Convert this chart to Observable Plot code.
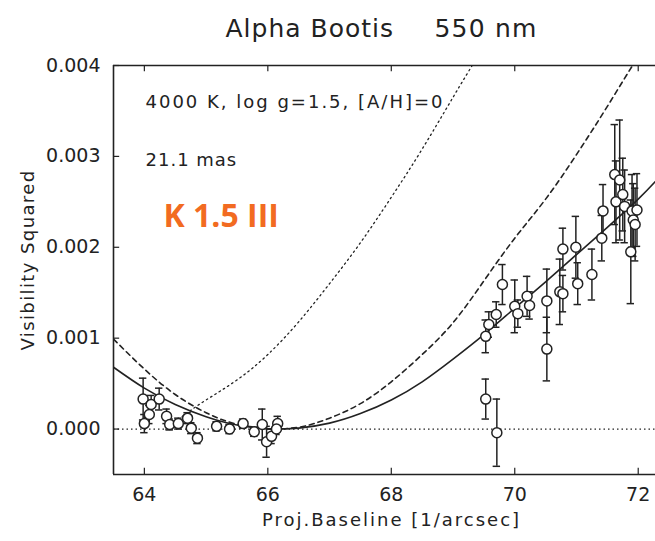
<!DOCTYPE html>
<html><head><meta charset="utf-8">
<script src="https://cdn.jsdelivr.net/npm/d3@7"></script>
<script src="https://cdn.jsdelivr.net/npm/@observablehq/plot@0.6"></script>
<style>body{margin:0;background:#fff} svg{display:block}</style>
</head><body><div id="chart"></div><script>
// Axis ticks
const xTicks = [64, 66, 68, 70, 72];
const yTicks = [0, 0.001, 0.002, 0.003, 0.004];
// Solid model curve
const solidX = [63.5,64,64.5,65,65.5,66,66.2,66.5,67,67.5,68,68.5,69,69.5,70,70.5,71,71.5,72,72.3];
const solidV = [0.00068,0.00045,0.00027,0.000135,0.000045,0.000004,0,0.00001,0.000065,0.00017,0.00032,0.00052,0.00077,0.00104,0.00133,0.00162,0.00192,0.00222,0.00253,0.00274];
// Dashed model curve
const dashX = [63.5,64,64.5,65,65.5,66,66.1,66.5,67,67.5,68,68.5,69,69.5,70,70.5,71,71.5,72,72.3];
const dashV = [0.00099,0.00066,0.00038,0.00018,0.000054,0.000002,0,0.00002,0.00012,0.00028,0.00052,0.00082,0.00117,0.00163,0.0021,0.00253,0.00302,0.00355,0.0041,0.0044];
// Dotted model curve
const dotX = [64.35,64.7,65,65.5,66,66.5,67,67.5,68,68.5,69,69.4];
const dotV = [0,0.00018,0.00032,0.00054,0.00082,0.00118,0.0016,0.00205,0.00255,0.00308,0.00365,0.0041];
// Measurements: baseline, V^2, error
const ptX = [63.98,64.0,64.08,64.11,64.24,64.36,64.41,64.55,64.7,64.76,64.86,65.17,65.38,65.6,65.78,65.91,65.98,66.06,66.16,66.14,
  69.53,69.71,69.53,69.58,69.7,69.8,70.0,70.05,70.2,70.24,70.52,70.52,70.73,71.02,
  70.78,70.78,70.99,71.25,71.41,71.43,71.62,71.64,71.7,71.75,71.78,71.9,71.98,71.92,71.88,71.95];
const ptV = [0.00033,0.00006,0.00016,0.00027,0.00033,0.00014,0.00005,0.00006,0.00012,0.00001,-0.0001,0.00003,0.0,0.00006,-0.00003,0.00005,-0.00014,-0.00008,0.00006,0.0,
  0.00033,-0.00004,0.00102,0.00115,0.00126,0.00159,0.00135,0.00127,0.00146,0.00136,0.00141,0.00088,0.00151,0.0016,
  0.00198,0.00149,0.002,0.0017,0.0021,0.0024,0.0028,0.0025,0.00274,0.00258,0.00245,0.0024,0.00241,0.0023,0.00195,0.00225];
const ptE = [0.00023,0.0001,0.0001,0.0001,0.00012,0.00008,0.00006,0.00006,0.00006,0.00006,0.00006,0.00005,0.00005,0.00005,0.00005,0.00017,0.00017,0.00008,0.00008,0.00006,
  0.00022,0.00037,0.00018,0.00014,0.00014,0.00022,0.00029,0.00015,0.00022,0.00015,0.00035,0.00035,0.00036,0.00023,
  0.00023,0.0002,0.00034,0.00028,0.00025,0.00029,0.00055,0.00045,0.00066,0.0004,0.0004,0.0004,0.0004,0.0004,0.00057,0.0004];

const solid = solidX.map((x,i)=>({x, v: solidV[i]}));
const dashed = dashX.map((x,i)=>({x, v: dashV[i]}));
const dotted = dotX.map((x,i)=>({x, v: dotV[i]}));
const pts = ptX.map((x,i)=>({x, v: ptV[i], e: ptE[i]}));

const X0 = 63.5, X1 = 72.28, Y0 = -0.0005, Y1 = 0.004;
const ink = "#222";
const font = "DejaVu Sans, sans-serif";

const plot = Plot.plot({
  width: 655, height: 541,
  marginLeft: 113, marginRight: 0, marginTop: 65, marginBottom: 67,
  style: {fontFamily: font, color: ink, background: "#fff"},
  x: {domain: [X0, X1]},
  y: {domain: [Y0, Y1]},
  marks: [
    // frame (no right side visible)
    Plot.ruleY([Y1, Y0], {x1: X0, x2: X1, stroke: ink, strokeWidth: 1.6}),
    Plot.ruleX([X0], {y1: Y0, y2: Y1, stroke: ink, strokeWidth: 1.6}),
    // inward ticks
    Plot.ruleX(xTicks, {y1: Y0, y2: Y0 + 0.00007, stroke: ink, strokeWidth: 1.2}),
    Plot.ruleX(xTicks, {y1: Y1, y2: Y1 - 0.00007, stroke: ink, strokeWidth: 1.2}),
    Plot.ruleY(yTicks, {x1: X0, x2: X0 + 0.1, stroke: ink, strokeWidth: 1.2}),
    // tick labels
    Plot.axisX({ticks: xTicks, tickSize: 0, tickPadding: 13, tickFormat: d => String(d), fontSize: 19, label: null}),
    Plot.axisY({ticks: yTicks, tickSize: 0, tickPadding: 13, tickFormat: d3.format(".3f"), fontSize: 19, label: null}),
    // zero line
    Plot.ruleY([0], {x1: X0, x2: X1, stroke: ink, strokeWidth: 1.3, strokeDasharray: "1.5,3"}),
    // model curves
    Plot.line(dotted, {x: "x", y: "v", curve: "natural", stroke: ink, strokeWidth: 1.3, strokeDasharray: "1.5,3.5", clip: true}),
    Plot.line(dashed, {x: "x", y: "v", curve: "natural", stroke: ink, strokeWidth: 1.6, strokeDasharray: "5,4", clip: true}),
    Plot.line(solid, {x: "x", y: "v", curve: "natural", stroke: ink, strokeWidth: 1.6, clip: true}),
    // error bars
    Plot.ruleX(pts, {x: "x", y1: d => d.v - d.e, y2: d => d.v + d.e, stroke: ink, strokeWidth: 1.5}),
    Plot.ruleY(pts, {y: d => d.v + d.e, x1: d => d.x - 0.06, x2: d => d.x + 0.06, stroke: ink, strokeWidth: 1.5}),
    Plot.ruleY(pts, {y: d => d.v - d.e, x1: d => d.x - 0.06, x2: d => d.x + 0.06, stroke: ink, strokeWidth: 1.5}),
    Plot.dot(pts, {x: "x", y: "v", r: 5, fill: "white", stroke: ink, strokeWidth: 1.5}),
    // texts
    Plot.text(["Alpha Bootis"], {frameAnchor: "top-left", dx: 112, dy: -29, textAnchor: "start", lineAnchor: "bottom", fontSize: 25, fill: ink}),
    Plot.text(["550 nm"], {frameAnchor: "top-left", dx: 321, dy: -29, textAnchor: "start", lineAnchor: "bottom", fontSize: 25, fill: ink}),
    Plot.text(["4000 K, log g=1.5, [A/H]=0"], {frameAnchor: "top-left", dx: 32, dy: 42, textAnchor: "start", lineAnchor: "bottom", fontSize: 18, fill: ink}),
    Plot.text(["21.1 mas"], {frameAnchor: "top-left", dx: 32, dy: 100, textAnchor: "start", lineAnchor: "bottom", fontSize: 18, fill: ink}),
    Plot.text(["K 1.5 III"], {frameAnchor: "top-left", dx: 50, dy: 161, textAnchor: "start", lineAnchor: "bottom", fontSize: 32, fontWeight: "bold", fill: "#F26B21", fontFamily: "Open Sans, sans-serif"}),
    Plot.text(["Visibility Squared"], {frameAnchor: "left", dx: -85, dy: -10, rotate: -90, textAnchor: "middle", fontSize: 18, fill: ink}),
    Plot.text(["Proj.Baseline [1/arcsec]"], {frameAnchor: "bottom", dx: 7, dy: 51, fontSize: 18, fill: ink})
  ]
});
const spacing = {"Alpha Bootis": 1, "550 nm": 1.2, "4000 K, log g=1.5, [A/H]=0": 2, "21.1 mas": 1, "Visibility Squared": 1.4, "Proj.Baseline [1/arcsec]": 2};
d3.select(plot).selectAll("text").each(function() {
  const t = this.textContent;
  if (t in spacing) this.setAttribute("letter-spacing", spacing[t]);
});
document.getElementById("chart").appendChild(plot);
</script></body></html>
